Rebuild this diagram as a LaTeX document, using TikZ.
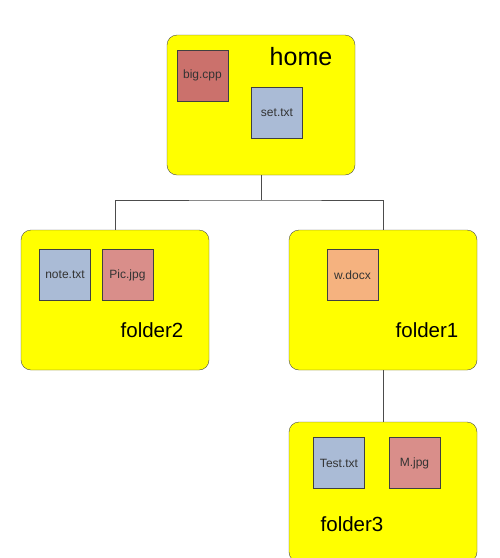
\documentclass[tikz,border=0pt]{standalone}
\usepackage{fontspec}
\setmainfont{Liberation Sans}
\usepackage{tikz}

\definecolor{dirfill}{HTML}{FFFF00}
\definecolor{redfile}{HTML}{CB716C}
\definecolor{pinkfile}{HTML}{D98E8A}
\definecolor{bluefile}{HTML}{AABBD6}
\definecolor{orangefile}{HTML}{F5B27F}

\begin{document}
\begin{tikzpicture}[x = 1pt, y = -1pt,
  dir/.style = {draw = black!70, fill = dirfill, rounded corners = 10pt, minimum width = 188pt, minimum height = 140pt},
  file/.style = {draw = black!75, inner sep = 0pt, minimum size = 51pt, text = black!80, font = \fontsize{12}{14}\selectfont},
  dirname/.style = {font = \fontsize{20.5}{24}\selectfont},
  link/.style = {draw = black!70, line width = 0.9pt}]
\useasboundingbox (0, 0) rectangle (500, 558);

\node[dir] (home) at (261, 105) {};
\node[dir] (folder2) at (115, 300) {};
\node[dir] (folder1) at (383, 300) {};
\node[dir] (folder3) at (383, 492) {};

\node[font = \fontsize{25}{30}\selectfont] (homename) at (301, 57) {home};
\node[dirname] (folder2name) at (152, 330) {folder2};
\node[dirname] (folder1name) at (427, 330) {folder1};
\node[dirname] (folder3name) at (352, 524) {folder3};

\node[file, fill = redfile] (bigcpp) at (202.5, 75.5) {big.cpp};
\node[file, fill = bluefile] (settxt) at (277, 112.5) {set.txt};
\node[file, fill = bluefile] (notetxt) at (65, 275) {note.txt};
\node[file, fill = pinkfile] (picjpg) at (127.5, 275) {Pic.jpg};
\node[file, fill = orangefile] (wdocx) at (352.5, 275) {w.docx};
\node[file, fill = bluefile] (testtxt) at (339, 463) {Test.txt};
\node[file, fill = pinkfile] (mjpg) at (414.5, 463) {M.jpg};

\coordinate (split) at (261, 200);
\draw[link] (home.south) -- (split);
\draw[link] (folder2.north) |- (split) -| (folder1.north);
\draw[link] (folder1.south) -- (folder3.north);

\end{tikzpicture}
\end{document}
